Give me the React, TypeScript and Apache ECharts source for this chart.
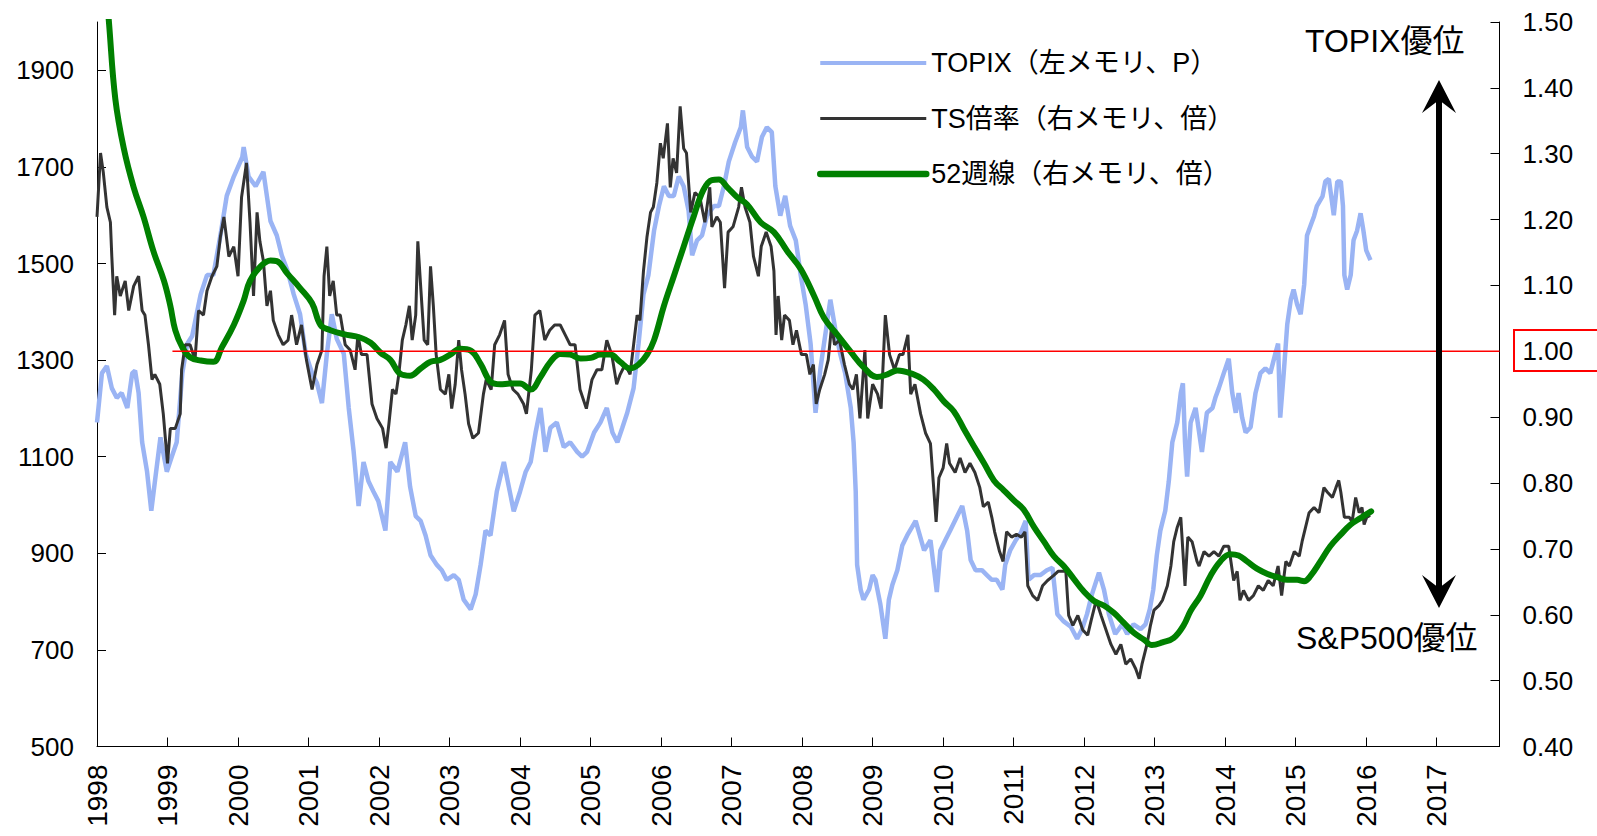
import React, { useEffect, useRef } from "react";
import * as echarts from "echarts";

const FONT = '"Liberation Sans", "Noto Sans CJK JP", sans-serif';

const seriesNames = ["TOPIX（左メモリ、P）", "TS倍率（右メモリ、倍）", "52週線（右メモリ、倍）"];
const yearTicks = [1998, 1999, 2000, 2001, 2002, 2003, 2004, 2005, 2006, 2007, 2008, 2009, 2010, 2011, 2012, 2013, 2014, 2015, 2016, 2017];
const leftTicks = [500, 700, 900, 1100, 1300, 1500, 1700, 1900];
const rightTicks = [0.4, 0.5, 0.6, 0.7, 0.8, 0.9, 1.0, 1.1, 1.2, 1.3, 1.4, 1.5];
const xRange = [1998, 2017.89];
const leftRange = [500, 2000];
const rightRange = [0.4, 1.5];

// TOPIX (left axis, points) [decimal year, value]
const topixData: [number, number][] = [
  [1998.0, 1171], [1998.07, 1273], [1998.14, 1288], [1998.21, 1242], [1998.28, 1222], [1998.35, 1232],
  [1998.43, 1201], [1998.5, 1273], [1998.54, 1278], [1998.59, 1232], [1998.64, 1130], [1998.71, 1069],
  [1998.77, 988], [1998.83, 1059], [1998.9, 1140], [1998.99, 1069], [1999.06, 1100], [1999.13, 1130],
  [1999.21, 1273], [1999.28, 1334], [1999.35, 1350], [1999.47, 1436], [1999.56, 1476], [1999.65, 1476],
  [1999.75, 1558], [1999.84, 1640], [1999.94, 1680], [2000.06, 1720], [2000.08, 1741], [2000.15, 1680],
  [2000.25, 1660], [2000.36, 1690], [2000.46, 1588], [2000.55, 1558], [2000.62, 1517], [2000.7, 1486],
  [2000.79, 1436], [2000.88, 1395], [2000.96, 1313], [2001.05, 1273], [2001.12, 1252], [2001.19, 1211],
  [2001.26, 1313], [2001.33, 1395], [2001.4, 1344], [2001.5, 1313], [2001.57, 1201], [2001.64, 1110],
  [2001.71, 998], [2001.78, 1089], [2001.85, 1049], [2001.92, 1028], [2001.99, 1008], [2002.09, 947],
  [2002.16, 1089], [2002.26, 1069], [2002.37, 1130], [2002.44, 1038], [2002.52, 977], [2002.59, 967],
  [2002.66, 937], [2002.73, 896], [2002.82, 876], [2002.89, 865], [2002.96, 845], [2003.06, 855],
  [2003.13, 845], [2003.2, 804], [2003.3, 784], [2003.37, 815], [2003.44, 876], [2003.51, 947],
  [2003.58, 937], [2003.67, 1028], [2003.77, 1089], [2003.84, 1038], [2003.91, 987], [2004.0, 1028],
  [2004.08, 1069], [2004.15, 1089], [2004.22, 1150], [2004.29, 1201], [2004.36, 1110], [2004.43, 1160],
  [2004.52, 1171], [2004.62, 1120], [2004.71, 1130], [2004.81, 1110], [2004.88, 1100], [2004.95, 1110],
  [2005.05, 1150], [2005.14, 1171], [2005.23, 1201], [2005.31, 1150], [2005.38, 1130], [2005.45, 1160],
  [2005.52, 1191], [2005.61, 1242], [2005.68, 1334], [2005.75, 1436], [2005.82, 1476], [2005.9, 1568],
  [2005.97, 1619], [2006.04, 1660], [2006.11, 1640], [2006.18, 1640], [2006.25, 1680], [2006.32, 1660],
  [2006.39, 1609], [2006.44, 1517], [2006.51, 1548], [2006.58, 1558], [2006.65, 1599], [2006.75, 1619],
  [2006.82, 1619], [2006.89, 1660], [2006.96, 1711], [2007.05, 1751], [2007.13, 1782], [2007.16, 1817],
  [2007.22, 1741], [2007.29, 1721], [2007.36, 1711], [2007.43, 1762], [2007.5, 1782], [2007.57, 1772],
  [2007.62, 1660], [2007.69, 1599], [2007.76, 1640], [2007.83, 1578], [2007.91, 1548], [2007.98, 1476],
  [2008.05, 1415], [2008.12, 1334], [2008.19, 1191], [2008.26, 1283], [2008.33, 1354], [2008.4, 1425],
  [2008.47, 1364], [2008.54, 1313], [2008.61, 1273], [2008.69, 1201], [2008.73, 1130], [2008.76, 1028],
  [2008.78, 876], [2008.83, 825], [2008.87, 804], [2008.95, 825], [2009.0, 855], [2009.04, 845],
  [2009.11, 794], [2009.18, 723], [2009.23, 804], [2009.28, 835], [2009.35, 865], [2009.42, 916],
  [2009.49, 937], [2009.61, 967], [2009.73, 906], [2009.82, 927], [2009.91, 820], [2009.96, 906],
  [2010.03, 927], [2010.1, 947], [2010.2, 977], [2010.27, 998], [2010.34, 947], [2010.39, 886],
  [2010.46, 865], [2010.55, 865], [2010.62, 855], [2010.69, 845], [2010.76, 845], [2010.84, 825],
  [2010.88, 876], [2010.95, 906], [2011.03, 927], [2011.1, 942], [2011.17, 967], [2011.21, 845],
  [2011.29, 855], [2011.38, 855], [2011.47, 865], [2011.55, 870], [2011.62, 774], [2011.71, 759],
  [2011.81, 748], [2011.9, 723], [2011.97, 743], [2012.04, 774], [2012.11, 815], [2012.21, 860],
  [2012.28, 825], [2012.35, 774], [2012.44, 733], [2012.54, 753], [2012.61, 733], [2012.7, 753],
  [2012.8, 743], [2012.87, 753], [2012.93, 784], [2012.98, 825], [2013.03, 896], [2013.08, 947],
  [2013.15, 988], [2013.2, 1049], [2013.25, 1130], [2013.32, 1171], [2013.37, 1232], [2013.4, 1252],
  [2013.43, 1130], [2013.46, 1059], [2013.51, 1171], [2013.58, 1201], [2013.67, 1110], [2013.74, 1191],
  [2013.82, 1201], [2013.86, 1222], [2013.91, 1242], [2013.98, 1273], [2014.05, 1303], [2014.1, 1232],
  [2014.15, 1191], [2014.19, 1232], [2014.24, 1181], [2014.29, 1150], [2014.36, 1161], [2014.43, 1232],
  [2014.5, 1273], [2014.57, 1283], [2014.64, 1273], [2014.71, 1313], [2014.75, 1334], [2014.78, 1181],
  [2014.83, 1273], [2014.88, 1374], [2014.93, 1425], [2014.97, 1446], [2015.02, 1415], [2015.07, 1395],
  [2015.12, 1456], [2015.16, 1558], [2015.21, 1578], [2015.26, 1598], [2015.3, 1619], [2015.38, 1639],
  [2015.42, 1670], [2015.47, 1675], [2015.54, 1600], [2015.59, 1670], [2015.64, 1670], [2015.67, 1619],
  [2015.69, 1476], [2015.73, 1446], [2015.78, 1476], [2015.82, 1548], [2015.87, 1568], [2015.92, 1604],
  [2015.96, 1568], [2016.0, 1527], [2016.06, 1507],
];

// TS ratio (right axis, times) [decimal year, value]
const tsData: [number, number][] = [
  [1998.0, 1.204], [1998.05, 1.301], [1998.09, 1.271], [1998.14, 1.219], [1998.19, 1.196], [1998.21, 1.144],
  [1998.25, 1.055], [1998.28, 1.114], [1998.33, 1.084], [1998.4, 1.107], [1998.45, 1.062], [1998.52, 1.099],
  [1998.59, 1.114], [1998.64, 1.062], [1998.68, 1.055], [1998.73, 1.01], [1998.78, 0.957], [1998.82, 0.965],
  [1998.89, 0.95], [1998.94, 0.905], [1999.0, 0.83], [1999.04, 0.883], [1999.11, 0.883], [1999.18, 0.905],
  [1999.2, 0.972], [1999.25, 1.01], [1999.32, 1.01], [1999.39, 0.987], [1999.44, 1.062], [1999.51, 1.055],
  [1999.56, 1.092], [1999.63, 1.114], [1999.7, 1.129], [1999.75, 1.174], [1999.8, 1.204], [1999.87, 1.144],
  [1999.94, 1.159], [2000.0, 1.114], [2000.05, 1.234], [2000.12, 1.286], [2000.17, 1.196], [2000.22, 1.084],
  [2000.27, 1.211], [2000.31, 1.167], [2000.36, 1.137], [2000.41, 1.069], [2000.46, 1.092], [2000.5, 1.047],
  [2000.57, 1.025], [2000.64, 1.01], [2000.71, 1.017], [2000.76, 1.055], [2000.83, 1.01], [2000.9, 1.04],
  [2000.97, 0.987], [2001.05, 0.942], [2001.12, 0.98], [2001.19, 1.002], [2001.22, 1.114], [2001.26, 1.159],
  [2001.3, 1.084], [2001.35, 1.107], [2001.4, 1.055], [2001.45, 1.055], [2001.52, 1.01], [2001.59, 1.002],
  [2001.66, 0.972], [2001.7, 1.025], [2001.75, 0.995], [2001.83, 0.995], [2001.9, 0.92], [2001.97, 0.898],
  [2002.05, 0.883], [2002.1, 0.853], [2002.14, 0.89], [2002.19, 0.942], [2002.24, 0.935], [2002.28, 0.965],
  [2002.33, 1.017], [2002.38, 1.04], [2002.43, 1.069], [2002.47, 1.017], [2002.52, 1.055], [2002.55, 1.167],
  [2002.59, 1.099], [2002.64, 1.017], [2002.69, 1.01], [2002.73, 1.129], [2002.77, 1.069], [2002.81, 0.995],
  [2002.87, 0.942], [2002.94, 0.935], [2002.99, 0.965], [2003.03, 0.913], [2003.08, 0.95], [2003.13, 1.017],
  [2003.17, 0.972], [2003.22, 0.935], [2003.27, 0.89], [2003.33, 0.868], [2003.41, 0.876], [2003.48, 0.935],
  [2003.52, 0.957], [2003.59, 0.942], [2003.64, 1.01], [2003.71, 1.025], [2003.78, 1.047], [2003.83, 0.965],
  [2003.9, 0.942], [2003.97, 0.935], [2004.05, 0.92], [2004.09, 0.905], [2004.16, 0.972], [2004.21, 1.055],
  [2004.28, 1.062], [2004.35, 1.017], [2004.42, 1.032], [2004.49, 1.04], [2004.57, 1.04], [2004.64, 1.025],
  [2004.71, 1.01], [2004.78, 1.01], [2004.85, 0.942], [2004.94, 0.913], [2005.02, 0.957], [2005.09, 0.972],
  [2005.16, 0.972], [2005.23, 1.017], [2005.3, 0.995], [2005.37, 0.95], [2005.42, 0.965], [2005.49, 0.98],
  [2005.56, 0.965], [2005.61, 1.01], [2005.66, 1.055], [2005.7, 1.047], [2005.75, 1.122], [2005.8, 1.174],
  [2005.85, 1.211], [2005.89, 1.219], [2005.94, 1.256], [2005.99, 1.316], [2006.03, 1.293], [2006.09, 1.346],
  [2006.13, 1.249], [2006.17, 1.293], [2006.22, 1.271], [2006.27, 1.372], [2006.32, 1.308], [2006.36, 1.301],
  [2006.42, 1.211], [2006.48, 1.241], [2006.55, 1.234], [2006.62, 1.196], [2006.69, 1.249], [2006.72, 1.189],
  [2006.79, 1.204], [2006.84, 1.196], [2006.9, 1.096], [2006.95, 1.181], [2007.02, 1.189], [2007.1, 1.219],
  [2007.14, 1.249], [2007.19, 1.219], [2007.26, 1.196], [2007.31, 1.144], [2007.38, 1.114], [2007.42, 1.159],
  [2007.49, 1.181], [2007.56, 1.159], [2007.6, 1.122], [2007.63, 1.025], [2007.66, 1.084], [2007.71, 1.017],
  [2007.75, 1.055], [2007.82, 1.047], [2007.87, 1.01], [2007.92, 1.032], [2007.99, 0.995], [2008.06, 0.995],
  [2008.11, 0.965], [2008.16, 0.98], [2008.2, 0.92], [2008.25, 0.942], [2008.32, 0.965], [2008.37, 0.987],
  [2008.42, 1.04], [2008.46, 1.01], [2008.53, 1.017], [2008.6, 0.98], [2008.67, 0.95], [2008.72, 0.942],
  [2008.77, 0.965], [2008.82, 0.898], [2008.89, 1.002], [2008.93, 0.898], [2009.0, 0.95], [2009.07, 0.935],
  [2009.12, 0.913], [2009.18, 1.055], [2009.24, 0.995], [2009.31, 0.972], [2009.38, 0.995], [2009.43, 0.995],
  [2009.5, 1.025], [2009.54, 0.935], [2009.6, 0.95], [2009.68, 0.905], [2009.75, 0.876], [2009.82, 0.86],
  [2009.86, 0.801], [2009.9, 0.741], [2009.94, 0.808], [2010.0, 0.823], [2010.05, 0.86], [2010.09, 0.83],
  [2010.17, 0.816], [2010.24, 0.838], [2010.31, 0.816], [2010.38, 0.83], [2010.45, 0.816], [2010.52, 0.793],
  [2010.57, 0.764], [2010.64, 0.771], [2010.69, 0.748], [2010.73, 0.726], [2010.8, 0.696], [2010.85, 0.681],
  [2010.9, 0.726], [2010.97, 0.718], [2011.04, 0.722], [2011.11, 0.718], [2011.16, 0.726], [2011.2, 0.644],
  [2011.27, 0.629], [2011.34, 0.622], [2011.41, 0.644], [2011.48, 0.652], [2011.56, 0.659], [2011.63, 0.666],
  [2011.7, 0.666], [2011.74, 0.666], [2011.78, 0.599], [2011.84, 0.584], [2011.91, 0.599], [2011.98, 0.577],
  [2012.05, 0.569], [2012.1, 0.592], [2012.17, 0.622], [2012.24, 0.599], [2012.31, 0.577], [2012.38, 0.555],
  [2012.45, 0.54], [2012.52, 0.555], [2012.59, 0.525], [2012.66, 0.533], [2012.73, 0.518], [2012.78, 0.503],
  [2012.82, 0.525], [2012.89, 0.555], [2012.94, 0.584], [2012.99, 0.607], [2013.06, 0.614], [2013.11, 0.622],
  [2013.18, 0.644], [2013.23, 0.674], [2013.27, 0.711], [2013.32, 0.733], [2013.37, 0.748], [2013.4, 0.696],
  [2013.43, 0.644], [2013.47, 0.718], [2013.53, 0.711], [2013.6, 0.681], [2013.63, 0.674], [2013.7, 0.696],
  [2013.77, 0.689], [2013.84, 0.696], [2013.91, 0.689], [2013.98, 0.704], [2014.05, 0.704], [2014.12, 0.652],
  [2014.17, 0.666], [2014.21, 0.622], [2014.26, 0.637], [2014.33, 0.622], [2014.4, 0.629], [2014.47, 0.644],
  [2014.54, 0.637], [2014.61, 0.652], [2014.68, 0.644], [2014.75, 0.674], [2014.8, 0.629], [2014.86, 0.681],
  [2014.91, 0.674], [2014.98, 0.696], [2015.05, 0.689], [2015.09, 0.711], [2015.14, 0.733], [2015.19, 0.755],
  [2015.26, 0.763], [2015.33, 0.755], [2015.4, 0.793], [2015.45, 0.786], [2015.52, 0.778], [2015.57, 0.793],
  [2015.61, 0.804], [2015.64, 0.786], [2015.69, 0.748], [2015.76, 0.748], [2015.8, 0.741], [2015.85, 0.778],
  [2015.9, 0.755], [2015.94, 0.763], [2015.97, 0.737], [2016.02, 0.752], [2016.05, 0.748],
];

// 52-week line (right axis, times) [decimal year, value]
const ma52Data: [number, number][] = [
  [1998.1, 1.59], [1998.17, 1.499], [1998.26, 1.383], [1998.38, 1.308], [1998.52, 1.249], [1998.66, 1.204],
  [1998.8, 1.152], [1998.95, 1.107], [1999.04, 1.069], [1999.11, 1.032], [1999.21, 1.006], [1999.32, 0.991],
  [1999.47, 0.986], [1999.65, 0.984], [1999.77, 1.006], [1999.94, 1.04], [2000.08, 1.077], [2000.17, 1.107],
  [2000.32, 1.129], [2000.46, 1.138], [2000.55, 1.137], [2000.7, 1.118], [2000.88, 1.096], [2001.05, 1.073],
  [2001.17, 1.04], [2001.31, 1.032], [2001.5, 1.026], [2001.73, 1.021], [2001.88, 1.013], [2002.02, 0.998],
  [2002.16, 0.987], [2002.3, 0.966], [2002.44, 0.963], [2002.59, 0.974], [2002.73, 0.984], [2002.87, 0.987],
  [2003.01, 0.995], [2003.15, 1.004], [2003.3, 1.001], [2003.44, 0.981], [2003.58, 0.954], [2003.72, 0.95],
  [2003.86, 0.951], [2004.0, 0.951], [2004.15, 0.942], [2004.29, 0.961], [2004.43, 0.984], [2004.57, 0.996],
  [2004.71, 0.995], [2004.86, 0.989], [2005.0, 0.99], [2005.14, 0.995], [2005.28, 0.995], [2005.42, 0.984],
  [2005.56, 0.974], [2005.68, 0.98], [2005.8, 0.995], [2005.9, 1.017], [2006.04, 1.069], [2006.18, 1.114],
  [2006.32, 1.159], [2006.46, 1.204], [2006.6, 1.245], [2006.72, 1.26], [2006.82, 1.261], [2006.94, 1.249],
  [2007.08, 1.234], [2007.22, 1.223], [2007.41, 1.196], [2007.6, 1.181], [2007.79, 1.152], [2007.98, 1.125],
  [2008.17, 1.084], [2008.31, 1.051], [2008.5, 1.025], [2008.69, 0.999], [2008.87, 0.976], [2009.06, 0.961],
  [2009.21, 0.965], [2009.35, 0.971], [2009.58, 0.965], [2009.72, 0.957], [2009.87, 0.942], [2010.01, 0.924],
  [2010.15, 0.909], [2010.29, 0.883], [2010.43, 0.857], [2010.58, 0.83], [2010.72, 0.804], [2010.86, 0.789],
  [2011.0, 0.774], [2011.14, 0.76], [2011.29, 0.733], [2011.43, 0.711], [2011.57, 0.689], [2011.71, 0.674],
  [2011.85, 0.655], [2011.99, 0.636], [2012.14, 0.621], [2012.28, 0.614], [2012.42, 0.603], [2012.56, 0.588],
  [2012.7, 0.573], [2012.85, 0.562], [2012.96, 0.554], [2013.11, 0.558], [2013.27, 0.565], [2013.41, 0.584],
  [2013.51, 0.606], [2013.65, 0.629], [2013.79, 0.659], [2013.93, 0.681], [2014.07, 0.692], [2014.19, 0.69],
  [2014.31, 0.681], [2014.45, 0.67], [2014.6, 0.662], [2014.74, 0.657], [2014.88, 0.653], [2015.02, 0.653],
  [2015.12, 0.651], [2015.21, 0.659], [2015.35, 0.681], [2015.49, 0.704], [2015.64, 0.722], [2015.78, 0.737],
  [2015.92, 0.747], [2016.07, 0.757],
];

// parity reference line at 1.00 (right axis)
const parityLine: [number, number][] = [[1999.07, 1.0], [2017.89, 1.0]];

export default function App() {
  const ref = useRef<HTMLDivElement>(null);
  useEffect(() => {
    if (!ref.current) return;
    const chart = echarts.init(ref.current, null, { renderer: "svg" });
    const axisLabelBase = { fontSize: 26, color: "#000", fontFamily: FONT };
    chart.setOption({
      animation: false,
      backgroundColor: "#fff",
      grid: { left: 97, right: 97.5, top: 22, bottom: 89.5 },
      legend: {
        orient: "vertical",
        left: 812,
        top: 43,
        itemWidth: 106,
        itemHeight: 14,
        itemGap: 25.5,
        data: [
          { name: seriesNames[0], lineStyle: { width: 4, color: "#9AB4F4" } },
          { name: seriesNames[1], lineStyle: { width: 3, color: "#333333" } },
          { name: seriesNames[2], lineStyle: { width: 6.5, color: "#008000", cap: "round" } },
        ],
        itemStyle: { opacity: 0 },
        textStyle: { fontSize: 27, fontFamily: FONT, color: "#000", lineHeight: 30 },
      },
      xAxis: {
        type: "value",
        min: xRange[0],
        max: xRange[1],
        splitLine: { show: false },
        axisLine: { lineStyle: { color: "#000", width: 1 } },
        axisTick: { inside: true, length: 9, customValues: yearTicks, lineStyle: { color: "#000" } },
        axisLabel: { ...axisLabelBase, fontSize: 28, customValues: yearTicks, rotate: 90, margin: 18, formatter: (v: number) => String(Math.round(v)) },
      },
      yAxis: [
        {
          type: "value",
          position: "left",
          min: leftRange[0],
          max: leftRange[1],
          splitLine: { show: false },
          axisLine: { show: true, lineStyle: { color: "#000", width: 1 } },
          axisTick: { show: true, inside: true, length: 9, customValues: leftTicks, lineStyle: { color: "#000" } },
          axisLabel: { ...axisLabelBase, customValues: leftTicks, margin: 23, formatter: (v: number) => String(Math.round(v)) },
        },
        {
          type: "value",
          position: "right",
          min: rightRange[0],
          max: rightRange[1],
          splitLine: { show: false },
          axisLine: { show: true, lineStyle: { color: "#000", width: 1 } },
          axisTick: { show: true, inside: true, length: 9, customValues: rightTicks, lineStyle: { color: "#000" } },
          axisLabel: { ...axisLabelBase, customValues: rightTicks, margin: 23, formatter: (v: number) => v.toFixed(2) },
        },
      ],
      series: [
        {
          name: seriesNames[0], type: "line", yAxisIndex: 0, data: topixData, symbol: "none", showSymbol: false,
          lineStyle: { color: "#9AB4F4", width: 4.5 }, itemStyle: { color: "#9AB4F4" }, z: 2,
        },
        {
          name: seriesNames[1], type: "line", yAxisIndex: 1, data: tsData, symbol: "none", showSymbol: false,
          lineStyle: { color: "#333333", width: 3 }, itemStyle: { color: "#333333" }, z: 3,
        },
        {
          name: seriesNames[2], type: "line", yAxisIndex: 1, data: ma52Data, symbol: "none", showSymbol: false, smooth: 0.4,
          lineStyle: { color: "#008000", width: 6, cap: "round" }, itemStyle: { color: "#008000" }, z: 4,
        },
        {
          name: "parity", type: "line", yAxisIndex: 1, data: parityLine, symbol: "none", showSymbol: false, silent: true,
          lineStyle: { color: "#FF0000", width: 1.5 }, itemStyle: { color: "#FF0000" }, z: 5,
        },
      ],
      graphic: [
        { type: "rect", shape: { x: 1514, y: 330, width: 95, height: 41 }, style: { fill: "none", stroke: "#FF0000", lineWidth: 2 }, z: 10 },
        { type: "line", shape: { x1: 1439, y1: 96, x2: 1439, y2: 592 }, style: { stroke: "#000", lineWidth: 6 }, z: 10 },
        { type: "polygon", shape: { points: [[1439, 80], [1456, 113], [1439, 100], [1422, 113]] }, style: { fill: "#000" }, z: 10 },
        { type: "polygon", shape: { points: [[1439, 608], [1456, 575], [1439, 588], [1422, 575]] }, style: { fill: "#000" }, z: 10 },
        { type: "text", x: 1305, y: 41, style: { text: "TOPIX優位", fontSize: 32, fontFamily: FONT, fill: "#000", verticalAlign: "middle" }, z: 10 },
        { type: "text", x: 1296, y: 638, style: { text: "S&P500優位", fontSize: 32, fontFamily: FONT, fill: "#000", verticalAlign: "middle" }, z: 10 },
      ],
    });
    return () => chart.dispose();
  }, []);
  return <div ref={ref} style={{ position: "absolute", left: 0, top: 0, width: 1597, height: 836, background: "#fff" }} />;
}
